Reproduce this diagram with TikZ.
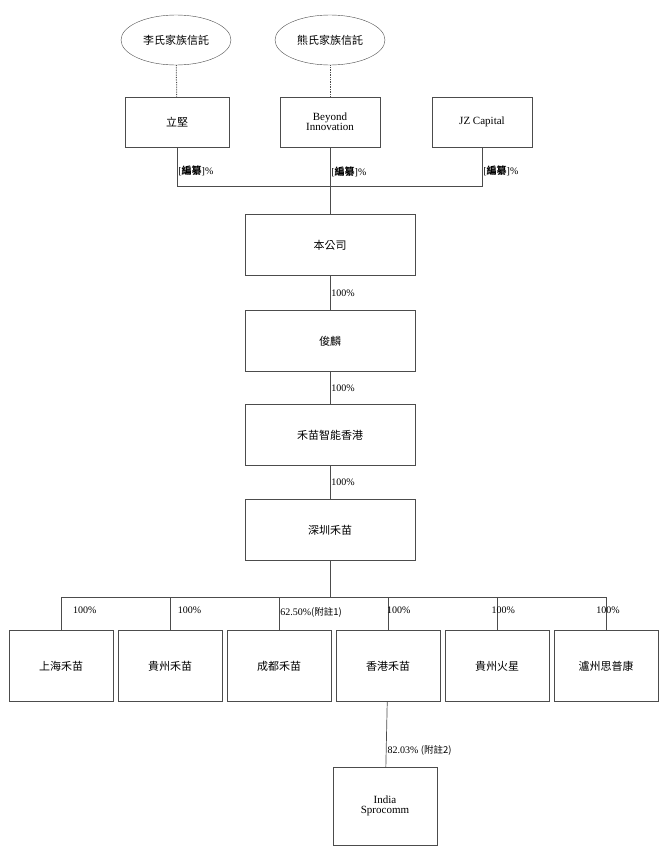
\documentclass[tikz,border=0pt]{standalone}
\usepackage{fontspec}
\setmainfont{Liberation Serif}
\newfontfamily\cjk{Noto Sans CJK TC}
\usetikzlibrary{shapes.geometric}
\tikzstyle{trust} = [ellipse, draw=black!70, minimum width=110pt, minimum height=50pt, font=\cjk\fontsize{11}{13}\selectfont]
\tikzstyle{entity} = [rectangle, draw=black!70, minimum width=104pt, minimum height=50pt, text centered, align=center, font=\fontsize{11}{12}\selectfont]
\tikzstyle{wide} = [entity, minimum width=170pt, minimum height=61pt]
\tikzstyle{sub} = [entity, minimum height=71pt]
\tikzstyle{link} = [draw=black!70, line width=0.7pt]
\tikzstyle{pct} = [anchor=west, inner sep=1pt, font=\fontsize{10}{12}\selectfont]
\newcommand{\bianzuan}{[{\cjk\bfseries 編纂}]\%}
\begin{document}
\begin{tikzpicture}[x=1pt,y=-1pt]
		\useasboundingbox (0,0) rectangle (663,849);
		\node (li) [trust] at (176,40) {李氏家族信託};
		\node (xiong) [trust] at (330,40) {熊氏家族信託};
		\node (lijian) [entity, font=\cjk\fontsize{11}{12}\selectfont] at (177,122) {立堅};
		\node (beyond) [entity, minimum width=100pt] at (330,122) {Beyond\\[-2pt]Innovation};
		\node (jz) [entity, minimum width=100pt] at (482,122) {JZ Capital};
		\node (company) [wide, font=\cjk\fontsize{11}{12}\selectfont] at (330,245) {本公司};
		\node (junlin) [wide, font=\cjk\fontsize{11}{12}\selectfont] at (330,341) {俊麟};
		\node (hk) [wide, font=\cjk\fontsize{11}{12}\selectfont] at (330,435) {禾苗智能香港};
		\node (sz) [wide, font=\cjk\fontsize{11}{12}\selectfont] at (330,530) {深圳禾苗};
		\coordinate (topbus) at (330,186);
		\coordinate (bus) at (336,597);
		% subsidiaries
		\foreach \x/\n/\t in {61/sh/上海禾苗, 170/gz/貴州禾苗, 279/cd/成都禾苗, 388/xg/香港禾苗, 497/mars/貴州火星, 606/lz/瀘州思普康}
			\node (\n) [sub, font=\cjk\fontsize{11}{12}\selectfont] at (\x,666) {\t};
		\node (india) [entity, minimum height=78pt] at (385,806) {India\\[-2pt]Sprocomm};
		\draw [link, densely dotted, line width=1pt] (li) -- (lijian);
		\draw [link, densely dotted, line width=1pt] (xiong) -- (beyond);
		\draw [link] (lijian) |- (topbus) node[pct, pos=0.3] {\bianzuan};
		\draw [link] (jz) |- (topbus) node[pct, pos=0.3] {\bianzuan};
		\draw [link] (beyond) -- (company) node[pct, pos=0.36] {\bianzuan};
		\draw [link] (company) -- node[pct] {100\%} (junlin);
		\draw [link] (junlin) -- node[pct] {100\%} (hk);
		\draw [link] (hk) -- node[pct] {100\%} (sz);
		\draw [link] (sz) -- (330,597);
		\foreach \n in {sh, gz, xg, mars, lz}
			\draw [link] (\n.north) -- ++(0,-33) -| (330,597) node[pct, pos=0.02, anchor=north west, yshift=-8pt] {100\%};
		\draw [link] (cd.north) -- ++(0,-33) node[pct, midway, yshift=1pt] {62.50\%{\cjk\itshape\fontsize{9.5}{11}\selectfont (附註1)}};
		\draw [link] (xg) -- node[pct, pos=0.75] {82.03\% {\cjk\fontsize{9.5}{11}\selectfont (附註2)}} (india);
		\end{tikzpicture}
\end{document}
